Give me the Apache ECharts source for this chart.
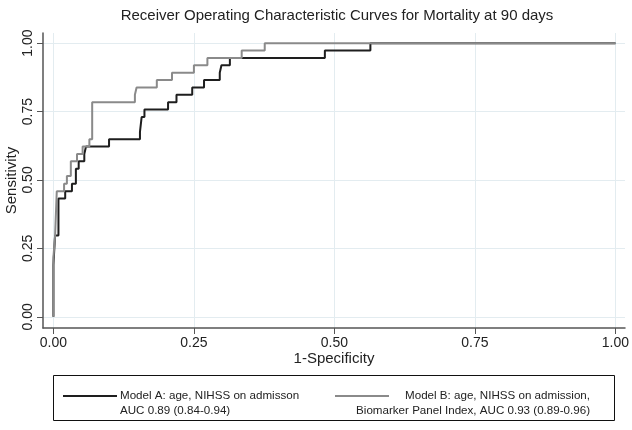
<!DOCTYPE html>
<html>
<head>
<meta charset="utf-8">
<script src="https://cdn.jsdelivr.net/npm/echarts@6/dist/echarts.min.js"></script>
<style>
html,body{margin:0;padding:0;background:#fff;}
#chart{width:632px;height:430px;}
</style>
</head>
<body>
<div id="chart"></div>
<script>
// ---- data ----
const titleText = 'Receiver Operating Characteristic Curves for Mortality at 90 days';
const xName = '1-Specificity';
const yName = 'Sensitivity';
const xTickValues = [0, 0.25, 0.5, 0.75, 1];
const xTickLabels = ['0.00', '0.25', '0.50', '0.75', '1.00'];
const yTickValues = [0, 0.25, 0.5, 0.75, 1];
const yTickLabels = ['0.00', '0.25', '0.50', '0.75', '1.00'];

const seriesNameA = 'Model A: age, NIHSS on admisson\nAUC 0.89 (0.84-0.94)';
const seriesNameB = 'Model B: age, NIHSS on admission,\nBiomarker Panel Index, AUC 0.93 (0.89-0.96)';

// Model A: 1-specificity where the curve steps up, and sensitivity after the step
const fprA = [0, 0, 0.003, 0.009, 0.021, 0.033, 0.040, 0.045, 0.055, 0.058, 0.099, 0.154, 0.157, 0.162, 0.204, 0.219, 0.247, 0.268, 0.296, 0.299, 0.314, 0.483, 0.564, 1];
const tprA = [0, 0.189, 0.297, 0.432, 0.459, 0.486, 0.541, 0.568, 0.595, 0.622, 0.649, 0.676, 0.730, 0.757, 0.784, 0.811, 0.838, 0.865, 0.892, 0.919, 0.946, 0.973, 1, 1];

// Model B
const fprB = [0, 0, 0.003, 0.006, 0.019, 0.024, 0.031, 0.042, 0.052, 0.064, 0.069, 0.145, 0.148, 0.184, 0.211, 0.250, 0.274, 0.335, 0.376, 1];
const tprB = [0, 0.216, 0.297, 0.459, 0.486, 0.514, 0.568, 0.595, 0.622, 0.649, 0.784, 0.811, 0.838, 0.865, 0.892, 0.919, 0.946, 0.973, 1, 1];

// ---- chart ----
const FONT = '"Liberation Sans", Arial, Helvetica, sans-serif';
const chart = echarts.init(document.getElementById('chart'), null, {renderer: 'canvas'});

function pairs(xs, ys) { return xs.map((x, i) => [x, ys[i]]); }
function labelFor(values, labels) {
  return v => {
    for (let i = 0; i < values.length; i++) if (Math.abs(values[i] - v) < 1e-9) return labels[i];
    return '';
  };
}

const option = {
  animation: false,
  backgroundColor: '#ffffff',
  title: {
    text: titleText,
    left: 332,
    textAlign: 'center',
    top: 3,
    textStyle: {fontFamily: FONT, fontSize: 15, fontWeight: 'normal', color: '#222'}
  },
  grid: {left: 43, right: 7, top: 33, bottom: 102, containLabel: false, outerBoundsMode: 'none'},
  xAxis: {
    type: 'value',
    min: -0.0185,
    max: 1.017,
    name: xName,
    nameLocation: 'middle',
    nameGap: 23,
    nameMoveOverlap: false,
    nameTextStyle: {fontFamily: FONT, fontSize: 15, color: '#222'},
    axisLine: {show: true, onZero: false, lineStyle: {color: '#555', width: 1.5}},
    axisTick: {show: true, customValues: xTickValues, length: 6, lineStyle: {color: '#555', width: 1}},
    axisLabel: {customValues: xTickValues, formatter: labelFor(xTickValues, xTickLabels), margin: 8,
      fontFamily: FONT, fontSize: 14, color: '#222'},
    splitLine: {show: true, lineStyle: {color: '#e3ecf0', width: 1}}
  },
  yAxis: {
    type: 'value',
    min: -0.041,
    max: 1.037,
    name: yName,
    nameLocation: 'middle',
    nameGap: 24,
    nameMoveOverlap: false,
    nameTextStyle: {fontFamily: FONT, fontSize: 15, color: '#222'},
    axisLine: {show: true, onZero: false, lineStyle: {color: '#555', width: 1.5}},
    axisTick: {show: true, customValues: yTickValues, length: 6, lineStyle: {color: '#555', width: 1}},
    axisLabel: {customValues: yTickValues, formatter: labelFor(yTickValues, yTickLabels), rotate: 90, margin: 8,
      fontFamily: FONT, fontSize: 14, color: '#222'},
    splitLine: {show: true, lineStyle: {color: '#e3ecf0', width: 1}}
  },
  series: [
    {
      name: seriesNameA,
      type: 'line',
      step: 'end',
      data: pairs(fprA, tprA),
      showSymbol: false,
      symbol: 'none',
      lineStyle: {color: '#1e1e1e', width: 2},
      z: 2
    },
    {
      name: seriesNameB,
      type: 'line',
      step: 'end',
      data: pairs(fprB, tprB),
      showSymbol: false,
      symbol: 'none',
      lineStyle: {color: '#8a8a8a', width: 2},
      z: 3
    }
  ],
  graphic: [
    {type: 'rect', shape: {x: 53.5, y: 375.5, width: 561, height: 45},
      style: {fill: 'none', stroke: '#111', lineWidth: 1}},
    {type: 'line', shape: {x1: 63, y1: 396, x2: 117, y2: 396},
      style: {stroke: '#1e1e1e', lineWidth: 2}},
    {type: 'text', x: 120, y: 388,
      style: {text: seriesNameA, fontFamily: FONT, fontSize: 11.6, lineHeight: 15, fill: '#222',
        textAlign: 'left', textVerticalAlign: 'top'}},
    {type: 'line', shape: {x1: 335, y1: 396, x2: 389, y2: 396},
      style: {stroke: '#8a8a8a', lineWidth: 2}},
    {type: 'text', x: 590, y: 388,
      style: {text: seriesNameB, fontFamily: FONT, fontSize: 11.6, lineHeight: 15, fill: '#222',
        textAlign: 'right', textVerticalAlign: 'top'}}
  ]
};
chart.setOption(option);
</script>
</body>
</html>
